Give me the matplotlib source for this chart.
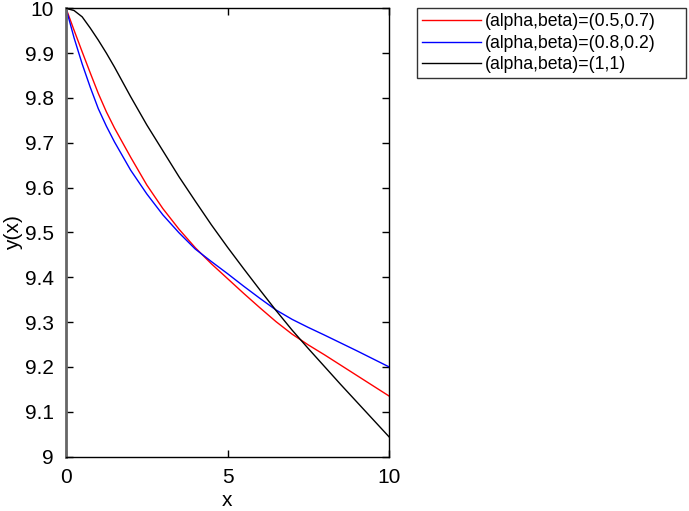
import matplotlib
matplotlib.use("Agg")
import matplotlib.pyplot as plt

plt.rcParams['font.family'] = ['Liberation Sans', 'DejaVu Sans']

# readings from the reference picture
x_vals = [0, 0.25, 0.5, 0.75, 1, 1.25, 1.5, 2, 2.5, 3, 3.5, 4, 4.5, 5, 5.5,
          6, 6.5, 7, 7.5, 8, 8.5, 9, 9.5, 10]

y_red = [10, 9.951, 9.903, 9.856, 9.810, 9.769, 9.733, 9.668, 9.606, 9.553,
         9.507, 9.466, 9.430, 9.397, 9.364, 9.332, 9.301, 9.273, 9.249, 9.227,
         9.204, 9.181, 9.158, 9.135]

y_blue = [10, 9.934, 9.876, 9.824, 9.776, 9.737, 9.702, 9.639, 9.586, 9.539,
          9.499, 9.463, 9.435, 9.408, 9.380, 9.353, 9.327, 9.306, 9.288, 9.271,
          9.2535, 9.236, 9.218, 9.200]

y_black = [10, 9.995, 9.981, 9.956, 9.929, 9.900, 9.869, 9.803, 9.740, 9.682,
           9.624, 9.570, 9.517, 9.467, 9.419, 9.372, 9.326, 9.282, 9.241, 9.201,
           9.161, 9.122, 9.083, 9.044]

labels = ["(alpha,beta)=(0.5,0.7)", "(alpha,beta)=(0.8,0.2)", "(alpha,beta)=(1,1)"]

fig = plt.figure(figsize=(6.89, 5.11), dpi=100)
ax = fig.add_axes([66 / 689, 1 - 456.5 / 511, (389 - 66) / 689, (456.5 - 8.3) / 511])

ax.plot(x_vals, y_red, color='red', lw=1.0, label=labels[0])
ax.plot(x_vals, y_blue, color='blue', lw=1.0, label=labels[1])
ax.plot(x_vals, y_black, color='black', lw=1.0, label=labels[2])

ax.set_xlim(0, 10)
ax.set_ylim(9, 10)
ax.set_xticks([0, 5, 10])
ax.set_yticks([9, 9.1, 9.2, 9.3, 9.4, 9.5, 9.6, 9.7, 9.8, 9.9, 10])
ax.set_yticklabels(["9", "9.1", "9.2", "9.3", "9.4", "9.5", "9.6", "9.7", "9.8", "9.9", "10"])
ax.tick_params(direction='in', length=5, width=1, top=True, right=True,
               labelsize=15)
ax.tick_params(axis='x', pad=8)
ax.tick_params(axis='y', pad=9)

for s in ax.spines.values():
    s.set_linewidth(1.0)
ax.spines['left'].set_color('#666666')
ax.spines['left'].set_linewidth(2)

ax.set_xlabel("x", fontsize=15, labelpad=3)
ax.set_ylabel("y(x)", fontsize=15, labelpad=1)

leg = ax.legend(loc='upper left', bbox_to_anchor=(417 / 689, 1 - 8 / 511, (686 - 417) / 689, 0),
                bbox_transform=fig.transFigure, mode='expand', fontsize=12.7,
                frameon=True, fancybox=False, handlelength=3.3, handletextpad=0.25,
                borderaxespad=0, labelspacing=0.25, borderpad=0.3)
leg.get_frame().set_edgecolor('black')
leg.get_frame().set_linewidth(1.0)

fig.savefig("out.png", dpi=100)
